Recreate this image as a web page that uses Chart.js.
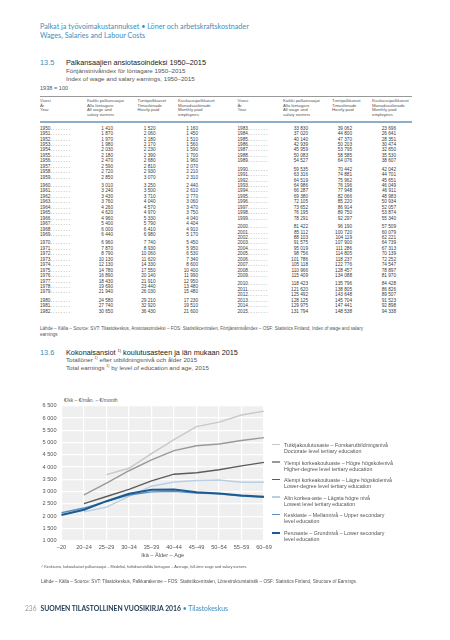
<!DOCTYPE html>
<html>
<head>
<meta charset="utf-8">
<script src="https://cdn.jsdelivr.net/npm/chart.js@4.4.1/dist/chart.umd.min.js"></script>
<style>
  html, body { margin: 0; padding: 0; background: #fff; }
  #page { position: relative; width: 450px; height: 640px; overflow: hidden; font-family: "Liberation Sans", Arial, sans-serif; }
  .t { position: absolute; white-space: nowrap; line-height: 1; }
  .hdr { color: #3b8fc0; font-family: Lato, "Open Sans", sans-serif; font-size: 7.2px; }
  .num { color: #2f8ec4; font-size: 7.4px; }
  .ttl { color: #222; font-size: 7.3px; }
  .sub { color: #555; font-size: 6.2px; }
  .th { color: #555; font-size: 4.3px; }
  .td { color: #3a3a3a; font-size: 4.7px; }
  .src { color: #555; font-size: 4.6px; }
  .leg { color: #555; font-size: 5.3px; line-height: 6px; }
  .sw { position: absolute; width: 8px; }
  #chartBox { position: absolute; left: 0; top: 390px; }
</style>
</head>
<body>
<div id="page">
  <div class="t hdr" style="left:40px;top:23px;">Palkat ja työvoimakustannukset • Löner och arbetskraftskostnader</div>
  <div class="t hdr" style="left:40px;top:31.5px;">Wages, Salaries and Labour Costs</div>

  <div class="t num" style="left:40px;top:58.5px;">13.5</div>
  <div class="t ttl" style="left:66px;top:58.5px;">Palkansaajien ansiotasoindeksi 1950–2015</div>
  <div class="t sub" style="left:66px;top:67.5px;">Förtjänstnivåindex för löntagare 1950–2015</div>
  <div class="t sub" style="left:66px;top:75.5px;">Index of wage and salary earnings, 1950–2015</div>
  <div class="t sub" style="left:40px;top:86px;font-size:5.6px;">1938 = 100</div>

  <div style="position:absolute;left:40px;top:96px;width:372px;height:0.6px;background:#999;"></div>
  <div style="position:absolute;left:40px;top:121px;width:372px;height:1.8px;background:#8eadc8;"></div>
  <div id="table"></div>

  <div class="t src" style="left:40px;top:326.5px;">Lähde – Källa – Source: SVT: Tilastokeskus, Ansiotasoindeksi – FOS: Statistikcentralen, Förtjänstnivåindex – OSF: Statistics Finland, Index of wage and salary</div>
  <div class="t src" style="left:40px;top:332.5px;">earnings</div>

  <div class="t num" style="left:40px;top:348.5px;">13.6</div>
  <div class="t ttl" style="left:66px;top:348.5px;">Kokonaisansiot <sup style="font-size:4px;">1)</sup> koulutusasteen ja iän mukaan 2015</div>
  <div class="t sub" style="left:66px;top:357px;">Totallöner <sup style="font-size:3.6px;">1)</sup> efter utbildningsnivå och ålder 2015</div>
  <div class="t sub" style="left:66px;top:365px;">Total earnings <sup style="font-size:3.6px;">1)</sup> by level of education and age, 2015</div>
  <div class="t src" style="left:64px;top:397.5px;font-size:5px;">€/kk – €/mån. – €/month</div>

  <div id="chartBox"><canvas id="earningsChart" width="285" height="175"></canvas></div>
  <div id="legend"></div>

  <div class="t src" style="left:41px;top:566px;font-size:3.8px;">¹⁾ Keskiarvo, kokoaikaiset palkansaajat – Medeltal, heltidsanställda löntagare – Average, full-time wage and salary earners.</div>
  <div class="t src" style="left:41px;top:580px;">Lähde – Källa – Source: SVT: Tilastokeskus, Palkkarakenne – FOS: Statistikcentralen, Lönestrukturstatistik – OSF: Statistics Finland, Structure of Earnings.</div>

  <div class="t" style="left:25px;top:605px;font-size:6.6px;color:#999;font-family:Lato,sans-serif;">236</div>
  <div class="t" style="left:40.5px;top:604.5px;font-size:6.8px;font-family:Lato,sans-serif;"><b style="color:#1d3550;">SUOMEN TILASTOLLINEN VUOSIKIRJA 2016</b> <span style="color:#3b8fc0;">• Tilastokeskus</span></div>
</div>

<script>
// 13.5 table, 1938 = 100
const tableYears = [];
for (let y = 1950; y <= 2015; y++) tableYears.push(y);
const allEarners = [1410, 1870, 1970, 1980, 2030, 2180, 2470, 2590, 2720, 2850,
  3010, 3240, 3430, 3760, 4260, 4620, 4960, 5400, 6000, 6440,
  6960, 7870, 8790, 10130, 12130, 14780, 16890, 18430, 19690, 21940,
  24580, 27740, 30650, 33830, 37020, 40140, 42939, 45959, 50083, 54527,
  59535, 63316, 64519, 64986, 66287, 69380, 72105, 73652, 76195, 78291,
  81422, 85112, 88103, 91575, 95019, 98756, 101786, 105118, 110966, 115409,
  118423, 121620, 125492, 128125, 129975, 131794];
const hourlyPaid = [1520, 2060, 2180, 2170, 2230, 2390, 2680, 2810, 2930, 3070,
  3250, 3500, 3710, 4040, 4570, 4970, 5330, 5790, 6410, 6980,
  7740, 8930, 10060, 11620, 14330, 17550, 20140, 21910, 23440, 26030,
  29210, 32920, 36430, 39062, 44800, 47370, 50203, 53795, 58585, 64076,
  70442, 74881, 75962, 76196, 77948, 82066, 85220, 86914, 89750, 92297,
  96190, 100720, 104119, 107900, 111286, 114805, 118237, 122776, 128457, 134088,
  135796, 138805, 143648, 145704, 147441, 148538];
const monthlyPaid = [1160, 1450, 1510, 1560, 1590, 1700, 1960, 2070, 2210, 2310,
  2440, 2610, 2770, 3060, 3470, 3750, 4040, 4404, 4910, 5170,
  5450, 5950, 6530, 7340, 8600, 10400, 11990, 12950, 13480, 15480,
  17230, 19510, 21600, 23696, 26641, 28351, 30474, 32650, 35530, 38607,
  42042, 44701, 45651, 46049, 46911, 48983, 50934, 52057, 53874, 55340,
  57509, 60079, 62221, 64739, 67313, 70139, 72252, 74547, 78897, 81970,
  84428, 86826, 89507, 91523, 92898, 94338];

const colHeads = [
  ['Vuosi', 'År', 'Year'],
  ['Kaikki palkansaajat', 'Alla löntagare', 'All wage and', 'salary earners'],
  ['Tuntipalkkaiset', 'Timavlönade', 'Hourly paid'],
  ['Kuukausipalkkaiset', 'Månadsavlönade', 'Monthly paid', 'employees']
];

// 13.6 chart
const ageGroups = ['–20', '20–24', '25–29', '30–34', '35–39', '40–44', '45–49', '50–54', '55–59', '60–69'];
const doctorate = [null, null, 3690, 3950, 4550, 5120, 5650, 5830, 6120, 6280];
const higherDegree = [null, 2870, 3350, 3850, 4290, 4670, 4870, 4940, 5080, 5200];
const lowerDegree = [null, 2510, 2800, 3090, 3440, 3710, 3770, 3890, 4050, 4190];
const lowestTertiary = [null, 2180, 2370, 2810, 3220, 3390, 3450, 3470, 3380, 3380];
const upperSecondary = [2140, 2330, 2600, 2860, 2990, 3010, 2940, 2910, 2820, 2770];
const lowerSecondary = [2050, 2260, 2610, 2910, 3080, 3090, 2970, 2920, 2840, 2790];

const series = [
  { fi: 'Tutkijakoulutusaste – Forskarutbildningsnivå', en: 'Doctorate level tertiary education', data: doctorate, color: '#c8c8c8', width: 1.4 },
  { fi: 'Ylempi korkeakouluaste – Högre högskolenivå', en: 'Higher-degree level tertiary education', data: higherDegree, color: '#999999', width: 1.4 },
  { fi: 'Alempi korkeakouluaste – Lägre högskolenivå', en: 'Lower-degree level tertiary education', data: lowerDegree, color: '#5c5c5c', width: 1.4 },
  { fi: 'Alin korkea-aste – Lägsta högre nivå', en: 'Lowest level tertiary education', data: lowestTertiary, color: '#b8cfe4', width: 1.4 },
  { fi: 'Keskiaste – Mellannivå – Upper secondary', en: 'level education', data: upperSecondary, color: '#5a8ebf', width: 1.4 },
  { fi: 'Perusaste – Grundnivå – Lower secondary', en: 'level education', data: lowerSecondary, color: '#1c5a92', width: 2 }
];

const fmt = v => String(v).replace(/\B(?=(\d{3})+(?!\d))/g, ' ');

function put(parent, cls, text, left, top, right) {
  const d = document.createElement('div');
  d.className = 't ' + cls;
  d.textContent = text;
  d.style.top = top + 'px';
  if (right) d.style.right = (450 - left) + 'px';
  else d.style.left = left + 'px';
  parent.appendChild(d);
}

// build table
const table = document.getElementById('table');
const halves = [
  { start: 0, x: [40, 113, 155.5, 198], hx: [40, 87, 137.5, 178], gaps: [10, 20, 30] },
  { start: 33, x: [237.5, 308, 352, 396], hx: [237.5, 283, 332, 372], gaps: [7, 17, 27] }
];
halves.forEach(h => {
  colHeads.forEach((lines, c) => {
    lines.forEach((s, k) => put(table, 'th', s, h.hx[c], 99 + k * 4.6));
  });
  for (let i = 0; i < 33; i++) {
    const idx = h.start + i;
    const gap = h.gaps.filter(g => i >= g).length;
    const top = 126.6 + i * 5.45 + gap * 2.9;
    put(table, 'td', tableYears[idx] + '. . . . . . . .', h.x[0], top);
    put(table, 'td', fmt(allEarners[idx]), h.x[1], top, true);
    put(table, 'td', fmt(hourlyPaid[idx]), h.x[2], top, true);
    put(table, 'td', fmt(monthlyPaid[idx]), h.x[3], top, true);
  }
});

// legend
const legend = document.getElementById('legend');
const legTops = [442, 459.5, 477, 494.5, 512, 530];
series.forEach((s, i) => {
  const sw = document.createElement('div');
  sw.className = 'sw';
  sw.style.left = '272px';
  sw.style.top = (legTops[i] + 2.6 - s.width / 2) + 'px';
  sw.style.height = s.width + 'px';
  sw.style.background = s.color;
  legend.appendChild(sw);
  const d = document.createElement('div');
  d.className = 't leg';
  d.style.left = '284px';
  d.style.top = legTops[i] + 'px';
  d.innerHTML = s.fi + '<br>' + s.en;
  legend.appendChild(d);
});

const plotBg = {
  id: 'plotBg',
  beforeDraw(chart) {
    const { ctx, chartArea: a } = chart;
    ctx.save();
    ctx.fillStyle = '#efefef';
    ctx.fillRect(a.left, a.top, a.width, a.height);
    ctx.restore();
  }
};

const tickFont = { family: '"Liberation Sans", Arial, sans-serif', size: 5.6 };

// first dataset is drawn on top, so reverse the legend order
const datasets = series.slice().reverse().map(s => ({
  label: s.fi,
  data: s.data,
  borderColor: s.color,
  borderWidth: s.width,
  pointRadius: 0,
  tension: 0,
  fill: false
}));

new Chart(document.getElementById('earningsChart'), {
  type: 'line',
  data: { labels: ageGroups, datasets },
  plugins: [plotBg],
  options: {
    responsive: false,
    animation: false,
    layout: { padding: { top: 15.7, right: 21, left: 0, bottom: 6.5 } },
    plugins: { legend: { display: false }, tooltip: { enabled: false } },
    scales: {
      x: {
        offset: false,
        grid: { color: '#ffffff', lineWidth: 1.2, drawTicks: false },
        border: { display: false },
        ticks: { color: '#555', font: tickFont, padding: 3, maxRotation: 0, autoSkip: false },
        title: { display: true, text: 'Ikä – Älder – Age', color: '#555', font: tickFont, padding: { top: 1, bottom: 0 } },
        afterFit: s => { s.height = 17.8; }
      },
      y: {
        min: 1000,
        max: 6500,
        grid: { color: '#ffffff', lineWidth: 1.2, drawTicks: false },
        border: { display: false },
        ticks: { stepSize: 500, color: '#555', font: tickFont, padding: 5, callback: v => fmt(v) },
        afterFit: s => { s.width = 61.5; }
      }
    }
  }
});
</script>
</body>
</html>
